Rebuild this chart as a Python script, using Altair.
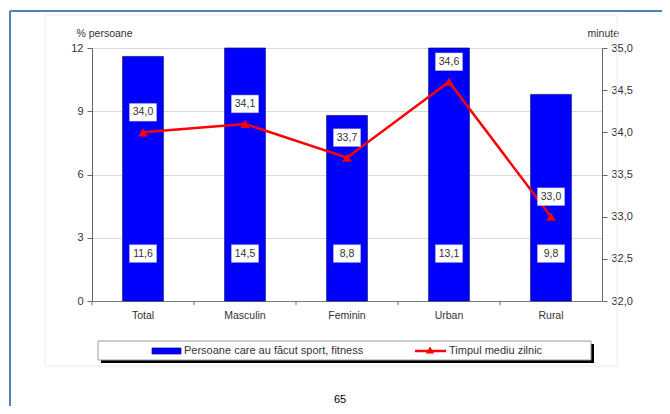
import altair as alt
import pandas as pd

categories = ["Total", "Masculin", "Feminin", "Urban", "Rural"]
persoane = [11.6, 14.5, 8.8, 13.1, 9.8]
minute = [34.0, 34.1, 33.7, 34.6, 33.0]
left_ticks = [0, 3, 6, 9, 12]
right_ticks = [32.0, 32.5, 33.0, 33.5, 34.0, 34.5, 35.0]

series_bar = "Persoane care au făcut sport, fitness"
series_line = "Timpul mediu zilnic"
left_title = "% persoane"
right_title = "minute"
page_number = "65"

df = pd.DataFrame({"cat": categories, "pers": persoane, "min": minute})
one = pd.DataFrame({"k": [0]})

FONT = "Liberation Sans"
TXT = "#333333"
W, H = 510, 253

xscale = alt.Scale(paddingInner=0.6, paddingOuter=0.3)
x_ax = alt.Axis(title=None, ticks=False, labelAngle=0, labelPadding=9,
                domainColor="#777777", labelFontSize=10.5)
X = alt.X("cat:N", sort=categories, scale=xscale, axis=x_ax)

yl_scale = alt.Scale(domain=[0, 12], clamp=True)
yr_scale = alt.Scale(domain=[32, 35])
yl_ax = alt.Axis(values=left_ticks, title=left_title, grid=True, gridColor="#d9d9d9",
                 tickSize=5, labelPadding=4, domainColor="#666666", tickColor="#666666",
                 titleAngle=0, titleAlign="left", titleBaseline="middle",
                 titleX=-16, titleY=-15, labelFontSize=11)
yr_ax = alt.Axis(orient="right", values=right_ticks, grid=False, title=right_title,
                 labelExpr="replace(format(datum.value, '.1f'), '.', ',')",
                 tickSize=5, labelPadding=4, domainColor="#666666", tickColor="#666666",
                 titleAngle=0, titleAlign="left", titleBaseline="middle",
                 titleX=-15, titleY=-15, labelFontSize=11)

box_path = "M-1,-0.65H1V0.65H-1Z"
fmt = "replace(format(datum.v, '.1f'), '.', ',')"

# ---------- decorations ----------
base1 = alt.Chart(one)
page_top = base1.mark_rule(color="#4f81bd", strokeWidth=2).encode(
    x=alt.value(-82), x2=alt.value(600), y=alt.value(-37))
page_left = base1.mark_rule(color="#4f81bd", strokeWidth=2).encode(
    x=alt.value(-82), y=alt.value(-37), y2=alt.value(400))
frame = base1.mark_rect(filled=False, stroke="#ececec", strokeWidth=1).encode(
    x=alt.value(-47), x2=alt.value(525), y=alt.value(-33), y2=alt.value(318))
leg_shadow = base1.mark_rect(fill="black").encode(
    x=alt.value(9), x2=alt.value(502), y=alt.value(296), y2=alt.value(315))
leg_box = base1.mark_rect(fill="white", stroke="#9a9a9a", strokeWidth=1).encode(
    x=alt.value(6), x2=alt.value(499), y=alt.value(293), y2=alt.value(312))
leg_sw = base1.mark_rect(fill="#0000ff", stroke="#000080", strokeWidth=0.7).encode(
    x=alt.value(60), x2=alt.value(89), y=alt.value(300), y2=alt.value(306))
leg_t1 = base1.mark_text(text=series_bar, align="left", baseline="middle", font=FONT,
                         fontSize=11, color=TXT).encode(x=alt.value(92), y=alt.value(303))
leg_line = base1.mark_rule(color="#ff0000", strokeWidth=2.5).encode(
    x=alt.value(323), x2=alt.value(354), y=alt.value(303))
leg_tri = base1.mark_point(shape="triangle-up", filled=True, color="#ff0000", size=70,
                           opacity=1).encode(x=alt.value(338), y=alt.value(302))
leg_t2 = base1.mark_text(text=series_line, align="left", baseline="middle", font=FONT,
                         fontSize=11, color=TXT).encode(x=alt.value(357), y=alt.value(303))
page_no = base1.mark_text(text=page_number, align="center", baseline="middle", font=FONT,
                          fontSize=11, color="#000000").encode(x=alt.value(248), y=alt.value(352))

# ---------- left group (bars) ----------
base = alt.Chart(df)
YL = alt.Y("pers:Q", scale=yl_scale, axis=yl_ax)
bars = base.mark_bar(color="#0000ff", stroke="#10107a", strokeWidth=0.7).encode(x=X, y=YL)
xticks = base.mark_rule(color="#666666", xOffset=-51).encode(
    x=X, y=alt.value(253), y2=alt.value(257))
bar_lab = base.transform_calculate(lab_y="2.25", v="datum.pers").transform_calculate(t=fmt)
YLab = alt.Y("lab_y:Q", scale=yl_scale, axis=yl_ax)
bar_box = bar_lab.mark_point(shape=box_path, size=729, filled=True, fill="white",
                             stroke="#c8c8c8", strokeWidth=0.5, opacity=1).encode(x=X, y=YLab)
bar_txt = bar_lab.mark_text(font=FONT, fontSize=10.5, color=TXT, baseline="middle").encode(
    x=X, y=YLab, text="t:N")

left = alt.layer(bars, xticks, bar_box, bar_txt)

# ---------- right group (line) ----------
YR = alt.Y("min:Q", scale=yr_scale, axis=yr_ax)
line = base.mark_line(color="#ff0000", strokeWidth=2.5).encode(x=X, y=YR)
tri = base.mark_point(shape="triangle-up", filled=True, color="#ff0000", size=90,
                      opacity=1).encode(x=X, y=YR)
line_lab = base.transform_calculate(v="datum.min").transform_calculate(t=fmt)
line_box = line_lab.mark_point(shape=box_path, size=729, filled=True, fill="white",
                               stroke="#c8c8c8", strokeWidth=0.5, opacity=1, yOffset=-20).encode(
    x=X, y=YR)
line_txt = line_lab.mark_text(font=FONT, fontSize=10.5, color=TXT, baseline="middle", dy=-20).encode(
    x=X, y=YR, text="t:N")

right = alt.layer(line, tri, line_box, line_txt)

deco_back = alt.layer(page_top, page_left, frame)
deco_leg = alt.layer(leg_shadow, leg_box, leg_sw, leg_t1, leg_line, leg_tri, leg_t2, page_no)

chart = alt.layer(deco_back, left, right, deco_leg).resolve_scale(y="independent").properties(
    width=W, height=H,
    padding={"left": 84, "top": 40, "right": 60, "bottom": 105},
    autosize=alt.AutoSizeParams(type="none"),
    background="white",
).configure_axis(
    labelFont=FONT, titleFont=FONT, labelColor=TXT, titleColor=TXT,
    titleFontSize=10.5, titleFontWeight="normal",
).configure_view(stroke=None)

chart.save("out.html", embed_options={"renderer": "svg", "actions": False})
